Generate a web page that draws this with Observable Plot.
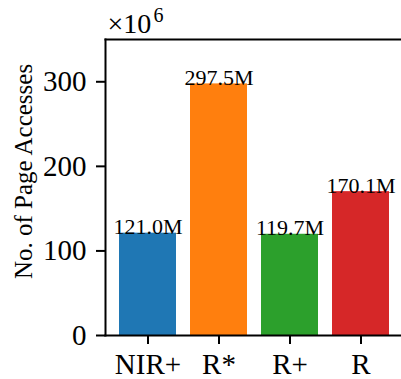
<!DOCTYPE html>
<html>
<head>
<meta charset="utf-8">
<script src="https://cdn.jsdelivr.net/npm/d3@7"></script>
<script src="https://cdn.jsdelivr.net/npm/@observablehq/plot@0.6"></script>
<style>
  html, body { margin: 0; padding: 0; background: #fff; }
  #chart svg { display: block; }
</style>
</head>
<body>
<div id="chart"></div>
<script>
const categories = ["NIR+", "R*", "R+", "R"];
const accesses = [121.0, 297.5, 119.7, 170.1]; // in millions
const barColors = ["#1f77b4", "#ff7f0e", "#2ca02c", "#d62728"];
const yTicks = [0, 100, 200, 300];
const yLabel = "No. of Page Accesses";
const multiplierBase = "×10";
const multiplierExp = "6";

const data = categories.map((c, i) => ({name: c, value: accesses[i], color: barColors[i]}));

const chart = Plot.plot({
  width: 401,
  height: 379,
  marginLeft: 105,
  marginRight: 0,
  marginTop: 39,
  marginBottom: 44,
  style: {fontFamily: "'Liberation Serif', 'DejaVu Serif', serif", fontSize: "29px", color: "#000", background: "#fff"},
  x: {domain: categories, range: [105, 403], paddingInner: 0.2, paddingOuter: 0.19, align: 0.5},
  y: {domain: [0, 350]},
  marks: [
    Plot.barY(data, {x: "name", y: "value", fill: "color"}),
    Plot.text(data, {x: "name", y: "value", text: d => d.value.toFixed(1) + "M", lineAnchor: "bottom", dy: 1, fontSize: 22, fill: "#000"}),
    Plot.axisY({ticks: yTicks, tickSize: 9, tickPadding: 10, strokeWidth: 2, label: null, fontSize: 29}),
    Plot.axisX({tickSize: 9, tickPadding: 9, strokeWidth: 2, label: null, fontSize: 29}),
    Plot.frame({anchor: "left", strokeWidth: 2}),
    Plot.frame({anchor: "top", strokeWidth: 2}),
    Plot.frame({anchor: "bottom", strokeWidth: 2}),
    Plot.text([yLabel], {frameAnchor: "left", text: d => d, rotate: -90, textAnchor: "middle", lineAnchor: "bottom", dx: -74, dy: -16, fontSize: 25}),
    Plot.text([multiplierBase], {frameAnchor: "top-left", text: d => d, textAnchor: "start", lineAnchor: "bottom", dx: 2, dy: -7, fontSize: 28}),
    Plot.text([multiplierExp], {frameAnchor: "top-left", text: d => d, textAnchor: "start", lineAnchor: "bottom", dx: 48, dy: -18, fontSize: 20})
  ]
});
document.getElementById("chart").appendChild(chart);
</script>
</body>
</html>
